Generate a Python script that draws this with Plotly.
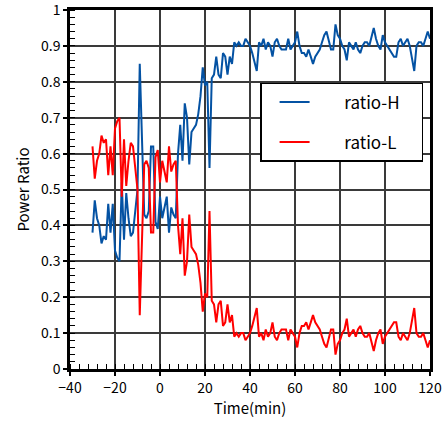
import plotly.graph_objects as go

time_min = list(range(-30, 121))

ratio_h = [
    0.38, 0.47, 0.42, 0.40, 0.35, 0.37, 0.36, 0.46, 0.38, 0.46,
    0.33, 0.31, 0.30, 0.52, 0.36, 0.49, 0.42, 0.37, 0.38, 0.45,
    0.50,
    0.85, 0.62, 0.43, 0.42, 0.44, 0.62, 0.62, 0.41, 0.39, 0.48,
    0.42, 0.45, 0.48, 0.38, 0.45, 0.43, 0.42, 0.60, 0.68, 0.58,
    0.74,
    0.70, 0.57, 0.66, 0.67, 0.68, 0.71, 0.76, 0.84, 0.79, 0.80,
    0.56, 0.81, 0.82, 0.87, 0.82, 0.81, 0.88, 0.87, 0.82, 0.87,
    0.85, 0.91, 0.90, 0.91,
    0.90, 0.90, 0.92, 0.91, 0.90, 0.88, 0.85, 0.83, 0.91, 0.90,
    0.92, 0.89, 0.91, 0.90, 0.87, 0.91, 0.92, 0.90, 0.89, 0.89,
    0.89, 0.92, 0.89, 0.90, 0.91, 0.94, 0.90, 0.88, 0.88, 0.87,
    0.89, 0.87, 0.85, 0.87, 0.88, 0.89, 0.91, 0.93, 0.94, 0.91,
    0.89, 0.89, 0.96, 0.93, 0.92, 0.90, 0.89, 0.86, 0.91, 0.90,
    0.89, 0.91, 0.89, 0.88, 0.90, 0.91, 0.91, 0.90, 0.93, 0.95,
    0.92, 0.90, 0.89, 0.93, 0.91, 0.90, 0.89, 0.88, 0.87, 0.87,
    0.91, 0.92, 0.90, 0.91, 0.92, 0.90, 0.86, 0.83, 0.90, 0.91,
    0.91, 0.90, 0.92, 0.94, 0.92,
]

ratio_l = [
    0.62, 0.53, 0.58, 0.60, 0.65, 0.63, 0.64, 0.54, 0.62, 0.54,
    0.67, 0.69, 0.70, 0.48, 0.64, 0.51, 0.58, 0.63, 0.62, 0.55,
    0.50,
    0.15, 0.38, 0.57, 0.58, 0.56, 0.38, 0.38, 0.59, 0.61, 0.52,
    0.58, 0.55, 0.52, 0.62, 0.55, 0.57, 0.58, 0.40, 0.32, 0.42,
    0.26,
    0.30, 0.43, 0.34, 0.33, 0.32, 0.29, 0.24, 0.16, 0.21, 0.20,
    0.44, 0.19, 0.18, 0.13, 0.18, 0.19, 0.12, 0.13, 0.18, 0.13,
    0.15, 0.09, 0.10, 0.09,
    0.10, 0.10, 0.08, 0.09, 0.10, 0.12, 0.15, 0.17, 0.09, 0.10,
    0.08, 0.11, 0.09, 0.10, 0.13, 0.09, 0.08, 0.10, 0.11, 0.11,
    0.11, 0.08, 0.11, 0.10, 0.09, 0.06, 0.10, 0.12, 0.12, 0.13,
    0.11, 0.13, 0.15, 0.13, 0.12, 0.11, 0.09, 0.07, 0.06, 0.09,
    0.11, 0.11, 0.04, 0.07, 0.08, 0.10, 0.11, 0.14, 0.09, 0.10,
    0.11, 0.09, 0.11, 0.12, 0.10, 0.09, 0.09, 0.10, 0.07, 0.05,
    0.08, 0.10, 0.11, 0.07, 0.09, 0.10, 0.11, 0.12, 0.13, 0.13,
    0.09, 0.08, 0.10, 0.09, 0.08, 0.10, 0.14, 0.17, 0.10, 0.09,
    0.09, 0.10, 0.08, 0.06, 0.08,
]

x_ticks = [-40, -20, 0, 20, 40, 60, 80, 100, 120]
y_ticks = [0, 0.1, 0.2, 0.3, 0.4, 0.5, 0.6, 0.7, 0.8, 0.9, 1]
y_tick_labels = ["0", "0.1", "0.2", "0.3", "0.4", "0.5", "0.6", "0.7", "0.8", "0.9", "1"]

FONT = "Noto Sans CJK JP"
GAP = "\u3000\u2002\u2005"   # space between legend line sample and text
PAD = "\u3000"               # right padding inside legend box

fig = go.Figure()
fig.add_trace(go.Scatter(x=time_min, y=ratio_h, mode="lines", name=GAP + "ratio-H" + PAD,
                         legendgroup="h",
                         line=dict(color="#0452A3", width=2)))
fig.add_trace(go.Scatter(x=time_min, y=ratio_l, mode="lines", name=GAP + "ratio-L" + PAD,
                         legendgroup="l",
                         line=dict(color="#FF0000", width=2)))

axis_common = dict(
    showgrid=True, gridcolor="#3a3a3a", gridwidth=1.5,
    showline=True, linecolor="black", linewidth=2.5, mirror=True,
    ticks="outside", ticklen=4, tickcolor="black", tickwidth=1.5,
    zeroline=False, automargin=False, ticklabeloverflow="allow",
    tickfont=dict(family=FONT, size=14, color="black"),
)

fig.update_xaxes(range=[-40, 120], tickvals=x_ticks,
                 minor=dict(dtick=4, tick0=0, ticks="inside", ticklen=5,
                            tickcolor="black", tickwidth=1, showgrid=False),
                 title=dict(text="Time(min)", font=dict(family=FONT, size=15, color="black"),
                            standoff=4),
                 **axis_common)
fig.update_yaxes(range=[0, 1], tickvals=y_ticks, ticktext=y_tick_labels,
                 minor=dict(dtick=0.02, tick0=0, ticks="inside", ticklen=5,
                            tickcolor="black", tickwidth=1, showgrid=False),
                 title=dict(text="Power Ratio", font=dict(family=FONT, size=15, color="black"),
                            standoff=8),
                 **axis_common)

fig.update_layout(
    width=446, height=427,
    margin=dict(l=70, r=16, t=10, b=58),
    plot_bgcolor="white", paper_bgcolor="white",
    font=dict(family=FONT, size=14, color="black"),
    legend=dict(x=0.528, y=0.797, xanchor="left", yanchor="top",
                bgcolor="white", bordercolor="black", borderwidth=1.5,
                font=dict(family=FONT, size=17, color="black"),
                tracegroupgap=15, indentation=13),
    showlegend=True,
)

fig.write_html("out.html")
